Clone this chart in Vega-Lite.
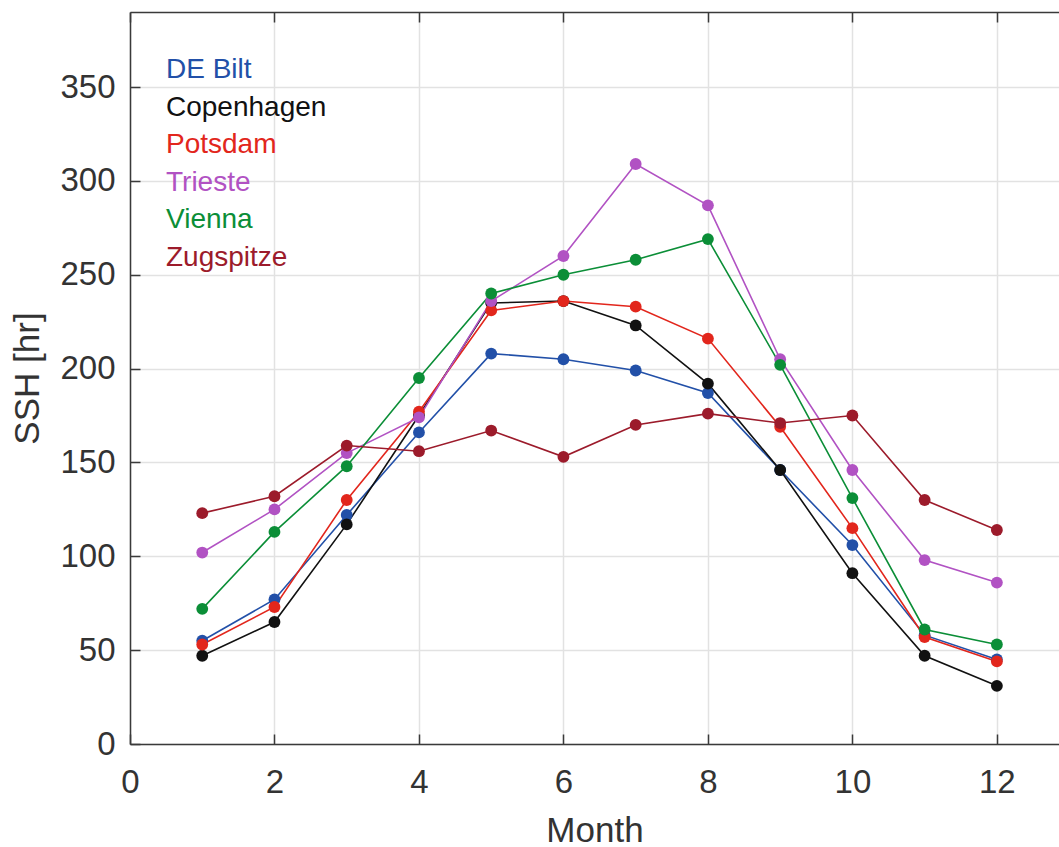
{
  "$schema": "https://vega.github.io/schema/vega-lite/v6.json",
  "width": 929,
  "height": 732,
  "autosize": {"type": "none"},
  "padding": {"left": 130, "top": 12, "right": 0, "bottom": 103},
  "background": "white",
  "config": {
    "view": {"stroke": null},
    "font": "Liberation Sans",
    "axis": {
      "domainColor": "#3a3a3a",
      "domainWidth": 1.5,
      "tickColor": "#3a3a3a",
      "tickWidth": 1.5,
      "tickSize": -10,
      "gridColor": "#e2e2e2",
      "gridWidth": 1.5,
      "labelFlush": false,
      "labelFont": "Liberation Sans",
      "labelFontSize": 33,
      "labelColor": "#333333",
      "titleFont": "Liberation Sans",
      "titleFontSize": 35,
      "titleFontWeight": "normal",
      "titleColor": "#333333"
    }
  },
  "data": {
    "values": [
      {"station": "DE Bilt", "month": 1, "ssh": 55},
      {"station": "DE Bilt", "month": 2, "ssh": 77},
      {"station": "DE Bilt", "month": 3, "ssh": 122},
      {"station": "DE Bilt", "month": 4, "ssh": 166},
      {"station": "DE Bilt", "month": 5, "ssh": 208},
      {"station": "DE Bilt", "month": 6, "ssh": 205},
      {"station": "DE Bilt", "month": 7, "ssh": 199},
      {"station": "DE Bilt", "month": 8, "ssh": 187},
      {"station": "DE Bilt", "month": 9, "ssh": 146},
      {"station": "DE Bilt", "month": 10, "ssh": 106},
      {"station": "DE Bilt", "month": 11, "ssh": 58},
      {"station": "DE Bilt", "month": 12, "ssh": 45},
      {"station": "Copenhagen", "month": 1, "ssh": 47},
      {"station": "Copenhagen", "month": 2, "ssh": 65},
      {"station": "Copenhagen", "month": 3, "ssh": 117},
      {"station": "Copenhagen", "month": 4, "ssh": 175},
      {"station": "Copenhagen", "month": 5, "ssh": 235},
      {"station": "Copenhagen", "month": 6, "ssh": 236},
      {"station": "Copenhagen", "month": 7, "ssh": 223},
      {"station": "Copenhagen", "month": 8, "ssh": 192},
      {"station": "Copenhagen", "month": 9, "ssh": 146},
      {"station": "Copenhagen", "month": 10, "ssh": 91},
      {"station": "Copenhagen", "month": 11, "ssh": 47},
      {"station": "Copenhagen", "month": 12, "ssh": 31},
      {"station": "Potsdam", "month": 1, "ssh": 53},
      {"station": "Potsdam", "month": 2, "ssh": 73},
      {"station": "Potsdam", "month": 3, "ssh": 130},
      {"station": "Potsdam", "month": 4, "ssh": 177},
      {"station": "Potsdam", "month": 5, "ssh": 231},
      {"station": "Potsdam", "month": 6, "ssh": 236},
      {"station": "Potsdam", "month": 7, "ssh": 233},
      {"station": "Potsdam", "month": 8, "ssh": 216},
      {"station": "Potsdam", "month": 9, "ssh": 169},
      {"station": "Potsdam", "month": 10, "ssh": 115},
      {"station": "Potsdam", "month": 11, "ssh": 57},
      {"station": "Potsdam", "month": 12, "ssh": 44},
      {"station": "Trieste", "month": 1, "ssh": 102},
      {"station": "Trieste", "month": 2, "ssh": 125},
      {"station": "Trieste", "month": 3, "ssh": 155},
      {"station": "Trieste", "month": 4, "ssh": 174},
      {"station": "Trieste", "month": 5, "ssh": 236},
      {"station": "Trieste", "month": 6, "ssh": 260},
      {"station": "Trieste", "month": 7, "ssh": 309},
      {"station": "Trieste", "month": 8, "ssh": 287},
      {"station": "Trieste", "month": 9, "ssh": 205},
      {"station": "Trieste", "month": 10, "ssh": 146},
      {"station": "Trieste", "month": 11, "ssh": 98},
      {"station": "Trieste", "month": 12, "ssh": 86},
      {"station": "Vienna", "month": 1, "ssh": 72},
      {"station": "Vienna", "month": 2, "ssh": 113},
      {"station": "Vienna", "month": 3, "ssh": 148},
      {"station": "Vienna", "month": 4, "ssh": 195},
      {"station": "Vienna", "month": 5, "ssh": 240},
      {"station": "Vienna", "month": 6, "ssh": 250},
      {"station": "Vienna", "month": 7, "ssh": 258},
      {"station": "Vienna", "month": 8, "ssh": 269},
      {"station": "Vienna", "month": 9, "ssh": 202},
      {"station": "Vienna", "month": 10, "ssh": 131},
      {"station": "Vienna", "month": 11, "ssh": 61},
      {"station": "Vienna", "month": 12, "ssh": 53},
      {"station": "Zugspitze", "month": 1, "ssh": 123},
      {"station": "Zugspitze", "month": 2, "ssh": 132},
      {"station": "Zugspitze", "month": 3, "ssh": 159},
      {"station": "Zugspitze", "month": 4, "ssh": 156},
      {"station": "Zugspitze", "month": 5, "ssh": 167},
      {"station": "Zugspitze", "month": 6, "ssh": 153},
      {"station": "Zugspitze", "month": 7, "ssh": 170},
      {"station": "Zugspitze", "month": 8, "ssh": 176},
      {"station": "Zugspitze", "month": 9, "ssh": 171},
      {"station": "Zugspitze", "month": 10, "ssh": 175},
      {"station": "Zugspitze", "month": 11, "ssh": 130},
      {"station": "Zugspitze", "month": 12, "ssh": 114}
    ]
  },
  "layer": [
    {
      "mark": {"type": "line", "strokeWidth": 1.6, "point": {"filled": true, "size": 140, "opacity": 1}},
      "encoding": {
        "x": {
          "field": "month", "type": "quantitative",
          "scale": {"domain": [0, 12.86], "nice": false, "zero": false},
          "axis": {"orient": "bottom", "values": [0, 2, 4, 6, 8, 10, 12], "title": "Month", "labelPadding": 32, "titlePadding": 14, "grid": true}
        },
        "y": {
          "field": "ssh", "type": "quantitative",
          "scale": {"domain": [0, 390], "nice": false},
          "axis": {"orient": "left", "values": [0, 50, 100, 150, 200, 250, 300, 350], "title": "SSH [hr]", "labelPadding": 25, "titlePadding": 14, "grid": true}
        },
        "color": {
          "field": "station", "type": "nominal",
          "scale": {
            "domain": ["DE Bilt", "Copenhagen", "Potsdam", "Trieste", "Vienna", "Zugspitze"],
            "range": ["#2250a8", "#111111", "#e2261c", "#b152c3", "#0b8e37", "#9c1b2b"]
          },
          "legend": {
            "orient": "none", "legendX": 8, "legendY": 44, "title": null,
            "symbolSize": 0, "symbolStrokeWidth": 0, "symbolOpacity": 0,
            "labelFontSize": 28, "labelFont": "Liberation Sans", "labelOffset": 0, "labelLimit": 0,
            "rowPadding": 9.5, "padding": 0,
            "encode": {"labels": {"update": {"fill": {"scale": "color", "field": "value"}}}}
          }
        },
        "order": {"field": "month", "type": "quantitative"}
      }
    },
    {
      "mark": {"type": "point", "opacity": 0},
      "encoding": {
        "x": {
          "field": "month", "type": "quantitative",
          "axis": {"orient": "top", "values": [0, 2, 4, 6, 8, 10, 12], "labels": false, "title": null, "grid": false}
        },
        "y": {"field": "ssh", "type": "quantitative", "axis": null}
      }
    }
  ],
  "resolve": {"axis": {"x": "independent", "y": "independent"}}
}
